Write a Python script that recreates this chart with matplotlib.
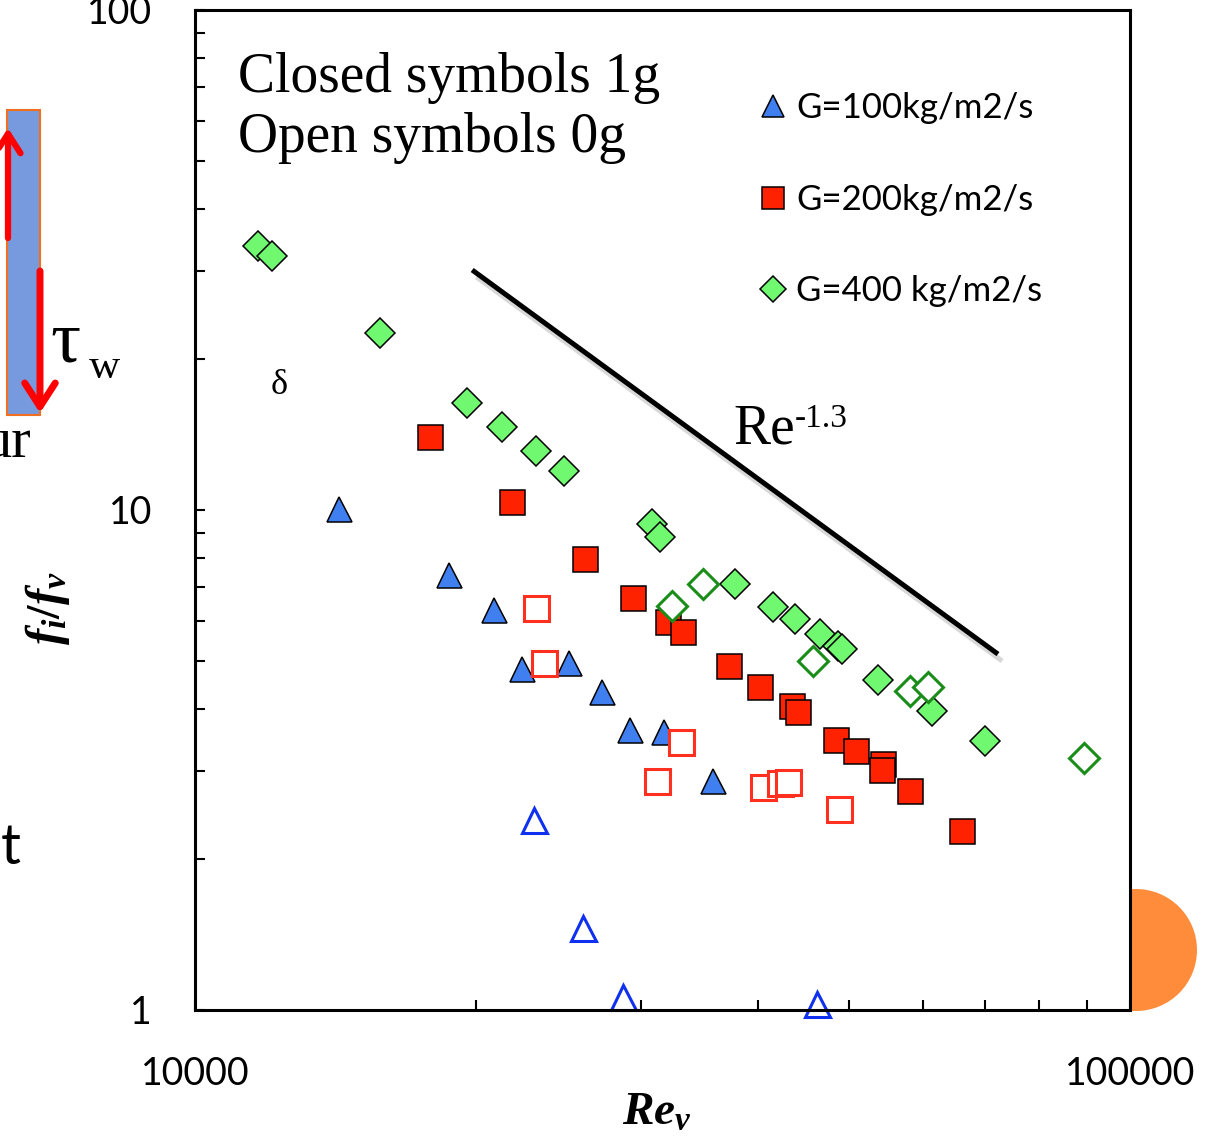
import numpy as np
import matplotlib
matplotlib.use("Agg")
import matplotlib.pyplot as plt
import matplotlib.patheffects as pe
from matplotlib.patches import Rectangle, Circle, FancyArrowPatch

plt.rcParams['mathtext.fontset'] = 'custom'
plt.rcParams['mathtext.it'] = 'Liberation Serif:bold:italic'
plt.rcParams['mathtext.bf'] = 'Liberation Serif:bold'
plt.rcParams['mathtext.rm'] = 'Liberation Serif'

# G=100 kg/m2/s (triangles)
re_100_1g = [14260, 18690, 20880, 22370, 25120, 27250, 29190, 31740, 35810]
fr_100_1g = [10.05, 7.41, 6.31, 4.81, 4.94, 4.33, 3.63, 3.60, 2.87]
re_100_0g = [23050, 26000, 28700, 46270]
fr_100_0g = [2.40, 1.46, 1.06, 1.03]

# G=200 kg/m2/s (squares)
re_200_1g = [17840, 21830, 26130, 29410, 32050, 33260, 37260, 40200, 43500, 44150,
             48490, 50930, 54430, 54300, 58170, 66100]
fr_200_1g = [14.0, 10.38, 7.98, 6.67, 5.97, 5.70, 4.88, 4.43, 4.06, 3.94,
             3.47, 3.30, 3.10, 3.02, 2.74, 2.28]
re_200_0g = [23160, 23620, 31200, 33100, 40500, 42240, 43070, 48840]
fr_200_0g = [6.37, 4.94, 2.87, 3.44, 2.79, 2.84, 2.86, 2.52]

# G=400 kg/m2/s (diamonds)
re_400_1g = [11680, 12090, 15770, 19540, 21300, 23160, 24810, 30830, 31440, 37810,
             41520, 43830, 46610, 48720, 49200, 53770, 61410, 69980]
fr_400_1g = [33.7, 32.2, 22.6, 16.4, 14.66, 13.12, 11.97, 9.38, 8.83, 7.11,
             6.40, 6.05, 5.65, 5.35, 5.27, 4.57, 3.96, 3.45]
re_400_0g = [32370, 34940, 45810, 58170, 60810, 89290]
fr_400_0g = [6.43, 7.11, 4.99, 4.35, 4.43, 3.19]

# Re^-1.3 guide line end points
re_line = [19790, 72240]
fr_line = [30.2, 5.15]

W, H = 1206, 1137
fig = plt.figure(figsize=(W / 100, H / 100), dpi=100)
ax = fig.add_axes([195 / W, 1 - 1010 / H, 935 / W, 1000 / H])
ax.set_zorder(1)


def fx(x):
    return x / W


def fy(y):
    return 1 - y / H


inch = fig.dpi_scale_trans

# decorations left over from the slide
fig.add_artist(Rectangle((7 / 100, (H - 415) / 100), 33 / 100, 305 / 100, transform=inch,
                         fc='#7799DD', ec='#F07020', lw=1.5, zorder=2))
fig.add_artist(FancyArrowPatch((8 / 100, (H - 238) / 100), (8 / 100, (H - 128) / 100),
                               transform=inch, arrowstyle='->,head_length=14,head_width=9',
                               color='#FF0000', lw=4.5, shrinkA=0, shrinkB=0, zorder=3))
fig.add_artist(FancyArrowPatch((40 / 100, (H - 271) / 100), (40 / 100, (H - 413) / 100),
                               transform=inch, arrowstyle='->,head_length=17,head_width=11',
                               color='#FF0000', lw=5, shrinkA=0, shrinkB=0, zorder=3))
fig.add_artist(Circle((1136 / 100, (H - 950) / 100), 0.61, transform=inch,
                      fc='#FF8C3A', ec='none', zorder=-1))
fig.text(fx(50), fy(362), 'τ', fontsize=54, family='Liberation Serif', ha='left', va='baseline')
fig.text(fx(89), fy(378), 'w', fontsize=31, family='Liberation Serif', ha='left', va='baseline')
fig.text(fx(31), fy(457), 'ur', fontsize=42, family='Liberation Serif', ha='right', va='baseline')
fig.text(fx(21), fy(864), 't', fontsize=40, family='Lato', ha='right', va='baseline')
fig.text(fx(279), fy(394), 'δ', fontsize=26, family='Liberation Serif', ha='center', va='baseline')

# data
edge = dict(markeredgecolor='black', markeredgewidth=1.1, linestyle='none', clip_on=False)
h1, = ax.plot(re_100_1g, fr_100_1g, marker='^', ms=18, markerfacecolor='#3F7FF0', **edge)
h2, = ax.plot(re_200_1g, fr_200_1g, marker='s', ms=18, markerfacecolor='#FF2200', **edge)
h3, = ax.plot(re_400_1g, fr_400_1g, marker='D', ms=15, markerfacecolor='#70F870', **edge)
ax.plot(re_100_0g, fr_100_0g, marker='^', ms=18, markerfacecolor='white',
        markeredgecolor='#1030F0', markeredgewidth=2.2, linestyle='none', clip_on=False)
ax.plot(re_200_0g, fr_200_0g, marker='s', ms=18, markerfacecolor='white',
        markeredgecolor='#FF3020', markeredgewidth=2.2, linestyle='none', clip_on=False)
ax.plot(re_400_0g, fr_400_0g, marker='D', ms=15, markerfacecolor='white',
        markeredgecolor='#1A8C1A', markeredgewidth=2.2, linestyle='none', clip_on=False)

ax.plot(re_line, fr_line, color='black', lw=3.6, solid_capstyle='butt',
        path_effects=[pe.SimpleLineShadow(offset=(3, -5), shadow_color='gray', alpha=0.3),
                      pe.Normal()])

ax.set_xscale('log')
ax.set_yscale('log')
ax.set_xlim(1e4, 1e5)
ax.set_ylim(1, 100)
ax.set_xticks([1e4, 1e5], ['10000', '100000'])
ax.set_yticks([1, 10, 100], ['1', '10', '100'])
ax.tick_params(which='both', direction='in', length=7.5, width=1.5, top=False, right=False,
               labelsize=27)
ax.tick_params(axis='y', pad=31)
ax.tick_params(axis='x', pad=33)
for lab in ax.get_xticklabels() + ax.get_yticklabels():
    lab.set_family('Lato')
ax.xaxis.set_minor_formatter(plt.NullFormatter())
ax.yaxis.set_minor_formatter(plt.NullFormatter())
for s in ax.spines.values():
    s.set_linewidth(2.2)

fig.text(fx(657), fy(1125), r'$Re_v$', fontsize=34, ha='center', va='baseline')
fig.text(fx(48), fy(608), r'$f_i\mathbf{/}f_v$', fontsize=35, rotation=90, ha='center', va='center')

fig.text(fx(238), fy(92), 'Closed symbols 1g', fontsize=40, family='Liberation Serif',
         ha='left', va='baseline')
fig.text(fx(238), fy(152), 'Open symbols 0g', fontsize=40, family='Liberation Serif',
         ha='left', va='baseline')
fig.text(fx(733), fy(443), 'Re', fontsize=40, family='Liberation Serif', ha='left', va='baseline')
fig.text(fx(795), fy(427), '-1.3', fontsize=24, family='Liberation Serif', ha='left', va='baseline')

leg = ax.legend([h1, h2, h3], ['G=100kg/m2/s', 'G=200kg/m2/s', 'G=400 kg/m2/s'],
                loc='upper left', bbox_to_anchor=(fx(763), fy(92)), bbox_transform=fig.transFigure,
                frameon=False, prop={'family': 'Lato', 'size': 25}, markerscale=0.85,
                handlelength=0.6, handletextpad=0.35, labelspacing=1.72, borderpad=0,
                borderaxespad=0)

fig.savefig('out.png', dpi=100)
